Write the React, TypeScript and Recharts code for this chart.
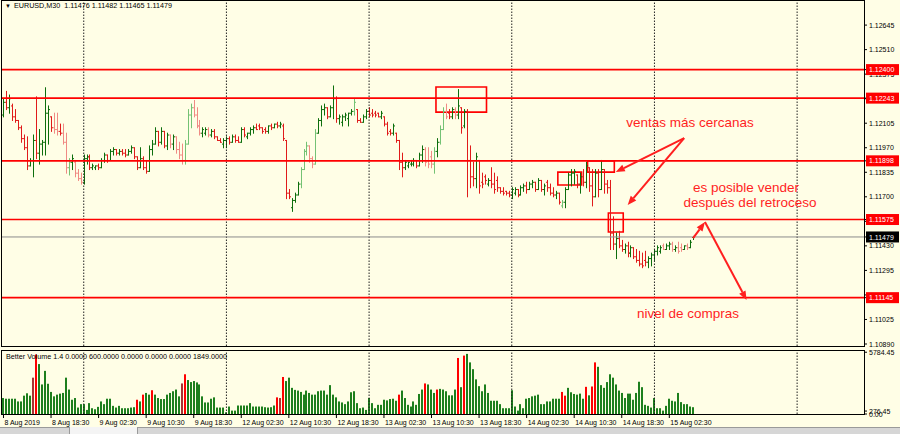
import React from 'react';
import { ComposedChart, Bar, XAxis, YAxis, ReferenceLine, ReferenceArea, Cell } from 'recharts';

// EURUSD M30, 8 Aug 2019 - 15 Aug 2019 (one entry per bar)
const opens = [
  1.1215, 1.1222, 1.1219, 1.1220, 1.1214, 1.1212, 1.1208, 1.1202, 1.1197, 1.1187,
  1.1190, 1.1201, 1.1194, 1.1199, 1.1200, 1.1216, 1.1214, 1.1208, 1.1207, 1.1206,
  1.1205, 1.1200, 1.1186, 1.1189, 1.1189, 1.1183, 1.1180, 1.1178, 1.1191, 1.1192,
  1.1186, 1.1186, 1.1187, 1.1186, 1.1190, 1.1193, 1.1190, 1.1195, 1.1196, 1.1194,
  1.1195, 1.1194, 1.1193, 1.1195, 1.1197, 1.1192, 1.1186, 1.1191, 1.1186, 1.1184,
  1.1196, 1.1199, 1.1206, 1.1200, 1.1206, 1.1198, 1.1204, 1.1199, 1.1203, 1.1196,
  1.1193, 1.1190, 1.1199, 1.1215, 1.1219, 1.1215, 1.1209, 1.1205, 1.1205, 1.1207,
  1.1204, 1.1206, 1.1203, 1.1201, 1.1199, 1.1201, 1.1202, 1.1200, 1.1203, 1.1201,
  1.1200, 1.1207, 1.1203, 1.1205, 1.1207, 1.1208, 1.1209, 1.1208, 1.1207, 1.1206,
  1.1209, 1.1208, 1.1210, 1.1209, 1.1209, 1.1201, 1.1172, 1.1164, 1.1168, 1.1171,
  1.1177, 1.1185, 1.1195, 1.1198, 1.1191, 1.1188, 1.1205, 1.1212, 1.1218, 1.1219,
  1.1214, 1.1219, 1.1224, 1.1213, 1.1211, 1.1214, 1.1213, 1.1216, 1.1217, 1.1218,
  1.1212, 1.1211, 1.1214, 1.1217, 1.1216, 1.1216, 1.1216, 1.1214, 1.1214, 1.1210,
  1.1206, 1.1205, 1.1205, 1.1201, 1.1189, 1.1186, 1.1187, 1.1188, 1.1188, 1.1190,
  1.1187, 1.1193, 1.1196, 1.1190, 1.1192, 1.1188, 1.1195, 1.1200, 1.1207, 1.1217,
  1.1216, 1.1214, 1.1218, 1.1215, 1.1219, 1.1209, 1.1217, 1.1190, 1.1181, 1.1180,
  1.1190, 1.1178, 1.1181, 1.1177, 1.1179, 1.1177, 1.1179, 1.1175, 1.1173, 1.1173,
  1.1172, 1.1171, 1.1172, 1.1174, 1.1171, 1.1175, 1.1176, 1.1174, 1.1177, 1.1178,
  1.1174, 1.1179, 1.1174, 1.1178, 1.1175, 1.1172, 1.1171, 1.1172, 1.1165, 1.1167,
  1.1174, 1.1182, 1.1183, 1.1182, 1.1177, 1.1181, 1.1178, 1.1186, 1.1176, 1.1170,
  1.1183, 1.1174, 1.1185, 1.1177, 1.1175, 1.1150, 1.1144, 1.1147, 1.1143, 1.1141,
  1.1143, 1.1139, 1.1142, 1.1137, 1.1135, 1.1133, 1.1135, 1.1134, 1.1136, 1.1138,
  1.1140, 1.1140, 1.1143, 1.1141, 1.1143, 1.1144, 1.1141, 1.1142, 1.1142, 1.1141,
  1.1143, 1.1142, 1.11476,
];
const highs = [
  1.1224, 1.1228, 1.1226, 1.1221, 1.1218, 1.1212, 1.1209, 1.1204, 1.1203, 1.1191,
  1.1204, 1.1225, 1.1207, 1.1201, 1.1230, 1.1220, 1.1214, 1.1216, 1.1216, 1.1210,
  1.1210, 1.1205, 1.1191, 1.1193, 1.1190, 1.1185, 1.1183, 1.1193, 1.1193, 1.1193,
  1.1188, 1.1187, 1.1188, 1.1191, 1.1194, 1.1193, 1.1196, 1.1197, 1.1196, 1.1196,
  1.1196, 1.1196, 1.1196, 1.1198, 1.1197, 1.1192, 1.1197, 1.1192, 1.1190, 1.1198,
  1.1201, 1.1208, 1.1206, 1.1208, 1.1206, 1.1205, 1.1204, 1.1204, 1.1203, 1.1200,
  1.1199, 1.1201, 1.1218, 1.1221, 1.1223, 1.1219, 1.1212, 1.1208, 1.1208, 1.1208,
  1.1207, 1.1207, 1.1203, 1.1202, 1.1202, 1.1203, 1.1203, 1.1204, 1.1204, 1.1203,
  1.1208, 1.1208, 1.1205, 1.1208, 1.1209, 1.1210, 1.1210, 1.1208, 1.1208, 1.1209,
  1.1210, 1.1210, 1.1211, 1.1211, 1.1210, 1.1201, 1.1174, 1.1169, 1.1172, 1.1178,
  1.1186, 1.1196, 1.1200, 1.1198, 1.1192, 1.1207, 1.1213, 1.1220, 1.1221, 1.1219,
  1.1220, 1.1231, 1.1225, 1.1215, 1.1215, 1.1216, 1.1216, 1.1218, 1.1224, 1.1218,
  1.1213, 1.1215, 1.1218, 1.1219, 1.1218, 1.1217, 1.1216, 1.1217, 1.1214, 1.1211,
  1.1207, 1.1210, 1.1205, 1.1201, 1.1194, 1.1190, 1.1189, 1.1190, 1.1191, 1.1190,
  1.1194, 1.1198, 1.1197, 1.1197, 1.1195, 1.1197, 1.1202, 1.1209, 1.1219, 1.1221,
  1.1218, 1.1219, 1.1219, 1.1229, 1.1219, 1.1218, 1.1218, 1.1198, 1.1189, 1.1194,
  1.1190, 1.1183, 1.1182, 1.1180, 1.1186, 1.1183, 1.1181, 1.1175, 1.1175, 1.1173,
  1.1173, 1.1175, 1.1175, 1.1174, 1.1176, 1.1177, 1.1178, 1.1178, 1.1179, 1.1178,
  1.1180, 1.1179, 1.1177, 1.1179, 1.1177, 1.1175, 1.1173, 1.1172, 1.1168, 1.1175,
  1.1183, 1.1185, 1.1185, 1.1182, 1.1183, 1.1185, 1.1189, 1.1186, 1.1185, 1.1185,
  1.1185, 1.1190, 1.1185, 1.1179, 1.1179, 1.1159, 1.1150, 1.1151, 1.1146, 1.1144,
  1.1145, 1.1143, 1.1142, 1.1141, 1.1140, 1.1139, 1.1140, 1.1137, 1.1139, 1.1141,
  1.1143, 1.1143, 1.1144, 1.1144, 1.1145, 1.1145, 1.1143, 1.1145, 1.1144, 1.1143,
  1.1144, 1.1146, 1.11482,
];
const lows = [
  1.1214, 1.1218, 1.1216, 1.1212, 1.1211, 1.1207, 1.1200, 1.1196, 1.1185, 1.1187,
  1.1181, 1.1191, 1.1188, 1.1193, 1.1193, 1.1199, 1.1206, 1.1205, 1.1204, 1.1204,
  1.1199, 1.1183, 1.1182, 1.1185, 1.1181, 1.1179, 1.1177, 1.1177, 1.1188, 1.1185,
  1.1185, 1.1185, 1.1185, 1.1186, 1.1189, 1.1189, 1.1190, 1.1193, 1.1193, 1.1193,
  1.1193, 1.1192, 1.1193, 1.1194, 1.1191, 1.1185, 1.1186, 1.1185, 1.1183, 1.1184,
  1.1193, 1.1199, 1.1198, 1.1199, 1.1197, 1.1196, 1.1197, 1.1196, 1.1194, 1.1191,
  1.1188, 1.1188, 1.1199, 1.1208, 1.1214, 1.1208, 1.1204, 1.1203, 1.1204, 1.1203,
  1.1203, 1.1202, 1.1201, 1.1200, 1.1197, 1.1197, 1.1199, 1.1200, 1.1200, 1.1200,
  1.1200, 1.1203, 1.1202, 1.1204, 1.1205, 1.1207, 1.1207, 1.1205, 1.1205, 1.1205,
  1.1207, 1.1208, 1.1208, 1.1208, 1.1201, 1.1169, 1.1169, 1.1162, 1.1167, 1.1171,
  1.1175, 1.1185, 1.1193, 1.1189, 1.1186, 1.1188, 1.1205, 1.1209, 1.1215, 1.1213,
  1.1214, 1.1213, 1.1211, 1.1210, 1.1209, 1.1212, 1.1209, 1.1215, 1.1215, 1.1211,
  1.1211, 1.1211, 1.1213, 1.1214, 1.1214, 1.1214, 1.1214, 1.1213, 1.1209, 1.1204,
  1.1204, 1.1204, 1.1200, 1.1185, 1.1181, 1.1185, 1.1186, 1.1187, 1.1187, 1.1186,
  1.1187, 1.1189, 1.1187, 1.1186, 1.1186, 1.1183, 1.1192, 1.1199, 1.1207, 1.1213,
  1.1213, 1.1213, 1.1213, 1.1213, 1.1205, 1.1208, 1.1170, 1.1175, 1.1176, 1.1175,
  1.1172, 1.1175, 1.1177, 1.1176, 1.1175, 1.1172, 1.1173, 1.1172, 1.1171, 1.1171,
  1.1170, 1.1169, 1.1171, 1.1170, 1.1171, 1.1173, 1.1172, 1.1174, 1.1175, 1.1173,
  1.1174, 1.1173, 1.1171, 1.1173, 1.1171, 1.1170, 1.1169, 1.1166, 1.1164, 1.1164,
  1.1174, 1.1176, 1.1177, 1.1175, 1.1172, 1.1176, 1.1175, 1.1173, 1.1165, 1.1170,
  1.1170, 1.1174, 1.1172, 1.1172, 1.1141, 1.1141, 1.1136, 1.1142, 1.1140, 1.1139,
  1.1137, 1.1137, 1.1136, 1.1134, 1.1132, 1.1131, 1.1132, 1.1131, 1.1132, 1.1135,
  1.1138, 1.1139, 1.1141, 1.1141, 1.1141, 1.1140, 1.1140, 1.1139, 1.1140, 1.1141,
  1.1141, 1.1142, 1.11465,
];
const closes = [
  1.1222, 1.1219, 1.1224, 1.1214, 1.1212, 1.1208, 1.1202, 1.1197, 1.1187, 1.1190,
  1.1201, 1.1194, 1.1199, 1.1200, 1.1216, 1.1218, 1.1208, 1.1207, 1.1206, 1.1205,
  1.1200, 1.1186, 1.1189, 1.1191, 1.1183, 1.1180, 1.1178, 1.1191, 1.1192, 1.1186,
  1.1187, 1.1187, 1.1186, 1.1190, 1.1193, 1.1190, 1.1195, 1.1196, 1.1194, 1.1195,
  1.1194, 1.1193, 1.1195, 1.1197, 1.1192, 1.1186, 1.1191, 1.1186, 1.1184, 1.1196,
  1.1199, 1.1206, 1.1200, 1.1206, 1.1198, 1.1204, 1.1199, 1.1203, 1.1196, 1.1193,
  1.1190, 1.1199, 1.1215, 1.1219, 1.1215, 1.1209, 1.1205, 1.1207, 1.1207, 1.1204,
  1.1206, 1.1203, 1.1201, 1.1200, 1.1201, 1.1202, 1.1200, 1.1203, 1.1201, 1.1200,
  1.1207, 1.1204, 1.1205, 1.1207, 1.1208, 1.1207, 1.1208, 1.1206, 1.1206, 1.1209,
  1.1208, 1.1210, 1.1209, 1.1210, 1.1202, 1.1172, 1.1170, 1.1168, 1.1171, 1.1177,
  1.1185, 1.1195, 1.1198, 1.1191, 1.1188, 1.1205, 1.1212, 1.1218, 1.1219, 1.1214,
  1.1219, 1.1224, 1.1213, 1.1214, 1.1214, 1.1215, 1.1216, 1.1217, 1.1222, 1.1212,
  1.1211, 1.1214, 1.1217, 1.1215, 1.1215, 1.1215, 1.1214, 1.1216, 1.1210, 1.1205,
  1.1205, 1.1209, 1.1201, 1.1189, 1.1186, 1.1189, 1.1189, 1.1190, 1.1190, 1.1187,
  1.1193, 1.1196, 1.1189, 1.1188, 1.1188, 1.1195, 1.1200, 1.1207, 1.1217, 1.1214,
  1.1214, 1.1218, 1.1215, 1.1220, 1.1208, 1.1217, 1.1190, 1.1181, 1.1180, 1.1192,
  1.1176, 1.1177, 1.1179, 1.1179, 1.1177, 1.1174, 1.1175, 1.1173, 1.1172, 1.1172,
  1.1171, 1.1174, 1.1174, 1.1171, 1.1175, 1.1176, 1.1174, 1.1177, 1.1178, 1.1174,
  1.1179, 1.1174, 1.1176, 1.1175, 1.1172, 1.1171, 1.1172, 1.1167, 1.1167, 1.1174,
  1.1182, 1.1183, 1.1184, 1.1177, 1.1181, 1.1178, 1.1187, 1.1176, 1.1170, 1.1183,
  1.1174, 1.1185, 1.1177, 1.1175, 1.1150, 1.1144, 1.1147, 1.1143, 1.1141, 1.1143,
  1.1139, 1.1142, 1.1137, 1.1135, 1.1133, 1.1132, 1.1134, 1.1136, 1.1138, 1.1140,
  1.1142, 1.1142, 1.1141, 1.1143, 1.1144, 1.1141, 1.1142, 1.1140, 1.1141, 1.1143,
  1.1142, 1.1145, 1.11479,
];

// Better Volume histogram
const volumes = [
  1495, 1431, 1431, 1431, 1431, 1177, 1177, 1717, 1940, 1717,
  3403, 5565, 4675, 2767, 4039, 2830, 2067, 1654, 1813, 1908,
  1972, 3403, 2290, 1336, 1495, 604, 922, 922, 382, 1018,
  541, 445, 668, 1177, 922, 1431, 1431, 763, 604, 763,
  541, 541, 541, 604, 636, 1336, 1177, 1813, 1972, 1813,
  2226, 1813, 1495, 1399, 1399, 1813, 1972, 2131, 2290, 1654,
  2862, 3721, 3180, 2989, 3085, 2957, 2767, 1654, 1081, 1081,
  1431, 1558, 604, 604, 604, 159, 700, 318, 318, 795,
  795, 795, 795, 1018, 700, 700, 700, 700, 636, 604,
  636, 795, 1558, 1495, 3466, 3085, 3403, 2449, 2258, 2194,
  2067, 1813, 2194, 1972, 1813, 1813, 2131, 2194, 2194, 1813,
  2703, 1813, 1558, 1177, 1081, 922, 1177, 2035, 2131, 1018,
  541, 604, 382, 1495, 1018, 541, 859, 859, 1336, 1272,
  1399, 1431, 1240, 1813, 2194, 1495, 859, 700, 1177, 859,
  1876, 2290, 2862, 2767, 2290, 1972, 2290, 2353, 2290, 2131,
  1749, 1749, 2290, 5247, 2512, 5470, 5629, 4834, 4198, 3244,
  2608, 2131, 2767, 1972, 1240, 1240, 1240, 922, 541, 541,
  541, 2226, 700, 318, 922, 541, 1431, 1495, 1654, 1717,
  1813, 922, 922, 1177, 1177, 1431, 1431, 1431, 2067, 1717,
  2449, 2035, 1876, 1813, 1908, 1431, 2544, 1749, 2576, 4834,
  4420, 2703, 2449, 2989, 3721, 3403, 2767, 2194, 1972, 1495,
  1908, 1908, 1336, 1972, 3021, 2512, 859, 763, 604, 1495,
  541, 541, 318, 763, 1431, 1240, 1177, 1972, 1113, 922,
  922, 700, 636,
];
const climaxBars = [11, 45, 47, 50, 61, 92, 94, 133, 142, 146, 153, 155, 188, 189, 196, 198, 199];
const churnBars = [10, 60, 93];
const paleBars = [17, 18, 20, 21, 22, 24, 25, 26, 56, 58, 59, 60, 61, 62, 63, 64, 65, 66, 69, 100, 101, 102,
  103, 104, 105, 118, 142, 143, 144, 145, 147, 148, 149, 152, 188, 222, 225, 227, 228, 230];

const timeTickIndex = [0, 16, 32, 48, 64, 80, 96, 112, 128, 144, 160, 176, 192, 208, 224];
const timeLabels = [
  '8 Aug 2019', '8 Aug 18:30', '9 Aug 02:30', '9 Aug 10:30', '9 Aug 18:30', '12 Aug 02:30',
  '12 Aug 10:30', '12 Aug 18:30', '13 Aug 02:30', '13 Aug 10:30', '13 Aug 18:30', '14 Aug 02:30',
  '14 Aug 10:30', '14 Aug 18:30', '15 Aug 02:30',
];
const priceTicks = [1.12645, 1.1251, 1.12375, 1.1224, 1.12105, 1.1197, 1.11835, 1.117, 1.11565,
  1.1143, 1.11295, 1.1116, 1.11025, 1.1089];
const levels = [1.124, 1.12243, 1.11898, 1.11575, 1.11145];
const lastPrice = 1.11479;
const volumeTicks = [0, 276.45, 5784.45];
const daySeparators = [27, 75, 123, 171, 219, 267];

// marked zones and arrows (bar index, price)
const boxes = [
  { x1: 146, x2: 162, y1: 1.12166, y2: 1.12304 },
  { x1: 187, x2: 194, y1: 1.11765, y2: 1.11836 },
  { x1: 197, x2: 205, y1: 1.11836, y2: 1.11897 },
  { x1: 204, x2: 208, y1: 1.11506, y2: 1.11611 },
];
const arrows = [
  [{ x: 229, y: 1.12023 }, { x: 206, y: 1.11836 }],
  [{ x: 229, y: 1.12023 }, { x: 210, y: 1.11655 }],
  [{ x: 232, y: 1.11473 }, { x: 236, y: 1.11561 }],
  [{ x: 236, y: 1.11561 }, { x: 250, y: 1.11132 }],
];

const SLOTS = 290;
const BG = '#fffee6';
const UP = '#0d6e0d';
const UP_PALE = '#74c274';
const DOWN = '#e01b1b';
const DOWN_PALE = '#f08a84';
const NOTE = '#ff1f1f';

const paleSet = new Set(paleBars);
const rows = Array.from({ length: SLOTS }, (_, i) => ({
  i,
  o: opens[i],
  h: highs[i],
  l: lows[i],
  c: closes[i],
  range: i < closes.length ? [lows[i], highs[i]] : undefined,
  v: volumes[i],
}));

function volColor(i: number) {
  if (climaxBars.includes(i)) return '#ff0000';
  if (churnBars.includes(i)) return '#a83232';
  return '#1d7f1d';
}

function OhlcBar(props: any) {
  const { x, y, width, height, payload } = props;
  if (!payload || payload.h == null) return null;
  const top = Math.min(y, y + height);
  const hpx = Math.abs(height);
  const cx = Math.round(x + width / 2) + 0.5;
  const span = payload.h - payload.l;
  const at = (p: number) => (span > 0 ? top + ((payload.h - p) / span) * hpx : top);
  const up = payload.c >= payload.o;
  const pale = paleSet.has(payload.i);
  const color = up ? (pale ? UP_PALE : UP) : pale ? DOWN_PALE : DOWN;
  return (
    <g stroke={color} strokeWidth={1}>
      <line x1={cx} x2={cx} y1={top - 0.5} y2={top + hpx + 0.5} />
      <line x1={cx - 1.5} x2={cx} y1={at(payload.o)} y2={at(payload.o)} />
      <line x1={cx} x2={cx + 1.5} y1={at(payload.c)} y2={at(payload.c)} />
    </g>
  );
}

function VolBar(props: any) {
  const { x, y, width, height, payload } = props;
  if (!payload || payload.v == null || !(height > 0)) return null;
  const left = Math.round(x + width / 2 - 1);
  return <rect x={left} y={y} width={2} height={height} fill={volColor(payload.i)} />;
}

function PriceTick(props: any) {
  const { x, y, payload } = props;
  const v = payload.value;
  const isLevel = levels.includes(v);
  const isLast = v === lastPrice;
  if (isLevel || isLast) {
    return (
      <g>
        <rect x={x - 3} y={y - 5.5} width={33} height={11} fill={isLast ? '#000' : '#ff0000'} />
        <text x={x} y={y} dy={2.6} fontSize={7} fill="#fff" textAnchor="start">{v.toFixed(5)}</text>
      </g>
    );
  }
  return <text x={x} y={y} dy={2.6} fontSize={7} fill="#000" textAnchor="start">{v.toFixed(5)}</text>;
}

function VolTick(props: any) {
  const { x, y, payload } = props;
  return <text x={x} y={y} dy={2.6} fontSize={7} fill="#000" textAnchor="start">{payload.value.toFixed(2)}</text>;
}

function TimeTick(props: any) {
  const { x, y, payload } = props;
  const k = timeTickIndex.indexOf(payload.value);
  return <text x={x + 1} y={y} dy={5} fontSize={7} fill="#000" textAnchor="start">{timeLabels[k]}</text>;
}

function Arrow(props: any) {
  const { x1, y1, x2, y2 } = props;
  const ang = Math.atan2(y2 - y1, x2 - x1);
  const len = 9;
  const half = 3.6;
  const bx = x2 - len * Math.cos(ang);
  const by = y2 - len * Math.sin(ang);
  const px = -Math.sin(ang) * half;
  const py = Math.cos(ang) * half;
  return (
    <g>
      <line x1={x1} y1={y1} x2={bx} y2={by} stroke={NOTE} strokeWidth={2} />
      <polygon points={`${x2},${y2} ${bx + px},${by + py} ${bx - px},${by - py}`} fill={NOTE} />
    </g>
  );
}

const notes = [
  { text: 'ventas más cercanas', x: 690, y: 122 },
  { text: 'es posible vender', x: 746, y: 187 },
  { text: 'después del retroceso', x: 750, y: 202 },
  { text: 'nivel de compras', x: 688, y: 313 },
];

export default function App() {
  return (
    <div
      style={{
        position: 'absolute', left: 0, top: 0, width: 900, height: 434, background: BG,
        fontFamily: '"Liberation Sans", Arial, sans-serif', overflow: 'hidden',
      }}
    >
      <div style={{ position: 'absolute', left: 0, top: 0 }}>
        <ComposedChart width={900} height={348} data={rows} margin={{ top: 2, right: 0, left: 2, bottom: 2 }} barCategoryGap="10%">
          <XAxis dataKey="i" type="category" hide />
          <YAxis
            orientation="right"
            width={36}
            type="number"
            domain={[1.10879, 1.12772]}
            allowDataOverflow
            ticks={[...priceTicks, ...levels, lastPrice]}
            interval={0}
            tick={<PriceTick />}
            tickSize={3}
            tickLine={{ stroke: '#000' }}
            axisLine={false}
          />
          {daySeparators.map((d) => (
            <ReferenceLine key={`d${d}`} x={d} stroke="#222" strokeDasharray="1.5 1.5" />
          ))}
          <ReferenceLine y={lastPrice} stroke="#8c8c8c" strokeWidth={1} />
          {levels.map((lv) => (
            <ReferenceLine key={`l${lv}`} y={lv} stroke="#ff0000" strokeWidth={1.6} />
          ))}
          <Bar dataKey="range" shape={<OhlcBar />} isAnimationActive={false} />
          {boxes.map((b, k) => (
            <ReferenceArea key={`b${k}`} x1={b.x1} x2={b.x2} y1={b.y1} y2={b.y2} fill="none" fillOpacity={0} stroke="#ff0000" strokeWidth={1.6} />
          ))}
          {arrows.map((a, k) => (
            <ReferenceLine key={`a${k}`} segment={a} shape={<Arrow />} ifOverflow="visible" />
          ))}
        </ComposedChart>
      </div>

      <div style={{ position: 'absolute', left: 0, top: 349 }}>
        <ComposedChart width={900} height={79} data={rows} margin={{ top: 2, right: 0, left: 2, bottom: 0 }} barCategoryGap="10%">
          <XAxis
            dataKey="i"
            type="category"
            ticks={timeTickIndex}
            interval={0}
            tick={<TimeTick />}
            tickSize={4}
            tickLine={{ stroke: '#000' }}
            axisLine={false}
            height={14}
          />
          <YAxis
            orientation="right"
            width={36}
            type="number"
            domain={[0, 5900]}
            ticks={volumeTicks}
            interval={0}
            tick={<VolTick />}
            tickSize={3}
            tickLine={{ stroke: '#000' }}
            axisLine={false}
          />
          {daySeparators.map((d) => (
            <ReferenceLine key={`vd${d}`} x={d} stroke="#222" strokeDasharray="1.5 1.5" />
          ))}
          <Bar dataKey="v" shape={<VolBar />} isAnimationActive={false}>
            {rows.map((r) => (
              <Cell key={r.i} fill={volColor(r.i)} />
            ))}
          </Bar>
        </ComposedChart>
      </div>

      {/* panel frames */}
      <div style={{ position: 'absolute', left: 1, top: 0, width: 864, height: 347, boxSizing: 'border-box', border: '1px solid #000', pointerEvents: 'none' }} />
      <div style={{ position: 'absolute', left: 1, top: 350, width: 864, height: 65, boxSizing: 'border-box', border: '1px solid #000', pointerEvents: 'none' }} />

      <div style={{ position: 'absolute', left: 5, top: 1, fontSize: 7.2, lineHeight: '10px', color: '#000', whiteSpace: 'nowrap' }}>
        <span style={{ fontSize: 6, marginRight: 3 }}>▼</span>EURUSD,M30&nbsp; 1.11476 1.11482 1.11465 1.11479
      </div>
      <div style={{ position: 'absolute', left: 6, top: 352, fontSize: 7.2, lineHeight: '10px', color: '#000', whiteSpace: 'nowrap' }}>
        Better Volume 1.4 0.0000 600.0000 0.0000 0.0000 0.0000 1849.0000
      </div>

      {notes.map((n) => (
        <div
          key={n.text}
          style={{
            position: 'absolute', left: n.x, top: n.y, transform: 'translate(-50%, -50%)',
            fontSize: 13.5, color: NOTE, whiteSpace: 'nowrap', lineHeight: '15px',
          }}
        >
          {n.text}
        </div>
      ))}

      {/* terminal tab strip */}
      <div style={{ position: 'absolute', left: 0, top: 427, width: 900, height: 7, background: '#d6d6d6', borderTop: '1px solid #9a9a9a' }} />
      <div style={{ position: 'absolute', left: 69, top: 427, width: 67, height: 7, background: '#f4f4f4', borderLeft: '1px solid #9a9a9a', borderRight: '1px solid #9a9a9a' }} />
    </div>
  );
}
